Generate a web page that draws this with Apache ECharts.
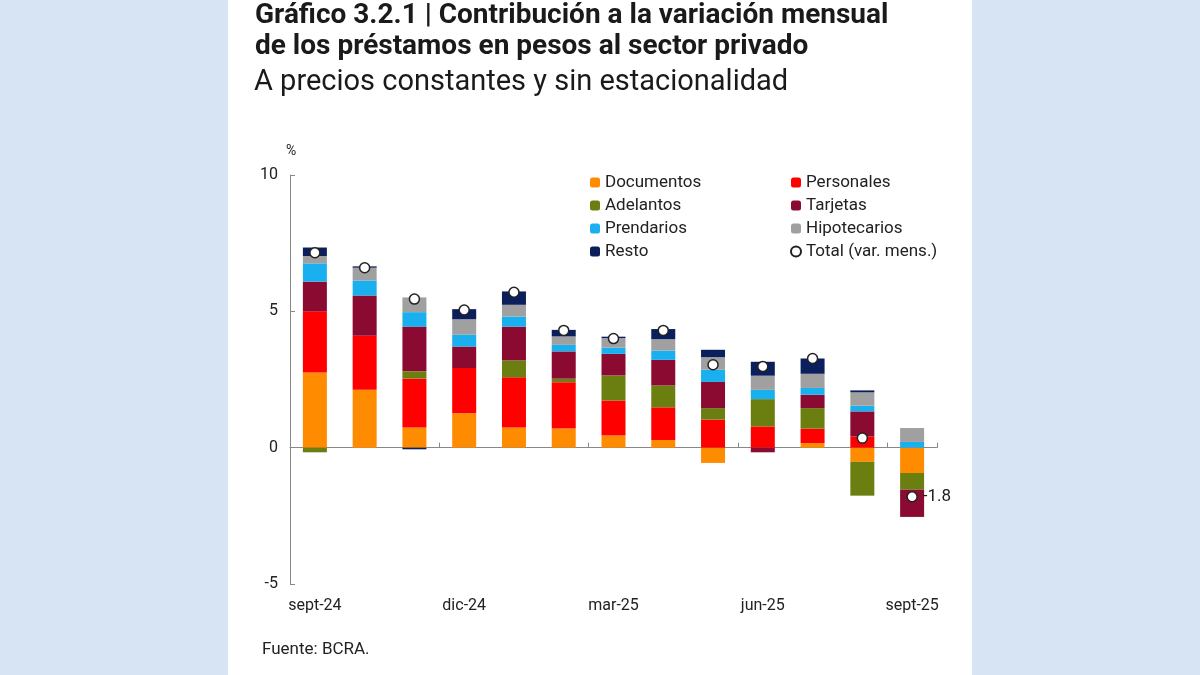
<!DOCTYPE html>
<html><head><meta charset="utf-8">
<script src="https://cdn.jsdelivr.net/npm/echarts@6/dist/echarts.min.js"></script>
<style>html,body{margin:0;padding:0;background:#d6e4f3}#c{width:1200px;height:675px}</style>
</head><body><div id="c"></div>
<script>
const categories=['sept-24','oct-24','nov-24','dic-24','ene-25','feb-25','mar-25','abr-25','may-25','jun-25','jul-25','ago-25','sept-25'];
const documentos=[2.76,2.12,0.74,1.26,0.74,0.70,0.45,0.28,-0.56,0,0.17,-0.52,-0.93];
const personales=[2.24,1.98,1.80,1.66,1.84,1.70,1.28,1.20,1.03,0.78,0.53,0.41,0];
const adelantos=[-0.17,0,0.26,0,0.62,0.13,0.92,0.80,0.42,1.00,0.75,-1.24,-0.61];
const tarjetas=[1.09,1.48,1.64,0.79,1.24,1.00,0.79,0.94,0.96,-0.17,0.49,0.92,-1.00];
const prendarios=[0.67,0.55,0.53,0.43,0.37,0.24,0.23,0.34,0.45,0.34,0.25,0.21,0.21];
const hipotecarios=[0.27,0.47,0.54,0.57,0.43,0.31,0.35,0.42,0.46,0.52,0.52,0.49,0.51];
const resto=[0.31,0.05,-0.06,0.37,0.49,0.24,0.05,0.37,0.27,0.51,0.56,0.07,0];
const total=[7.15,6.6,5.45,5.05,5.7,4.3,4.0,4.3,3.04,2.98,3.27,0.35,-1.8];
const yTicks=[-5,0,5,10];
const names=['Documentos','Personales','Adelantos','Tarjetas','Prendarios','Hipotecarios','Resto'];
const colors=['#ff8c00','#ff0000','#6b7f10','#8b0a32','#1ab0f0','#a0a0a0','#0a1f5c'];
const data=[documentos,personales,adelantos,tarjetas,prendarios,hipotecarios,resto];
const series=names.map((n,i)=>({name:n,type:'bar',stack:'s',barWidth:24,data:data[i],itemStyle:{color:colors[i]}}));
series.push({name:'Total (var. mens.)',type:'scatter',data:total,symbolSize:10,z:10,
 itemStyle:{color:'#ffffff',opacity:1,borderColor:'#222',borderWidth:1.5},
 label:{show:true,position:'right',fontSize:17,color:'#222',fontFamily:'Roboto',
  formatter:p=>p.dataIndex===12?String(p.value):''}});
const chart=echarts.init(document.getElementById('c'));
chart.setOption({
 animation:false,
 graphic:[
  {type:'rect',shape:{x:228,y:0,width:744,height:675},style:{fill:'#fff'},z:-10},
  {type:'text',left:255,top:0,style:{text:'Gráfico 3.2.1 | Contribución a la variación mensual\nde los préstamos en pesos al sector privado',font:'bold 28px Roboto',fill:'#1a1a1a',lineHeight:31}},
  {type:'text',left:254,top:68,style:{text:'A precios constantes y sin estacionalidad',font:'29px Roboto',fill:'#1a1a1a'}},
  {type:'text',left:286,top:144,style:{text:'%',font:'14px Roboto',fill:'#222'}},
  {type:'text',left:262,top:641,style:{text:'Fuente: BCRA.',font:'17px Roboto',fill:'#222'}}
 ],
 legend:[
  {orient:'vertical',left:585,top:169,itemWidth:10,itemHeight:10,itemGap:6,textStyle:{fontSize:17,color:'#222',fontFamily:'Roboto'},
   data:['Documentos','Adelantos','Prendarios','Resto']},
  {orient:'vertical',left:785,top:169,itemWidth:10,itemHeight:10,itemGap:6,textStyle:{fontSize:17,color:'#222',fontFamily:'Roboto'},
   data:['Personales','Tarjetas','Hipotecarios','Total (var. mens.)']}
 ],
 grid:{left:290,right:1200-937,top:175,bottom:675-584},
 xAxis:{type:'category',data:categories,
  axisLine:{onZero:true,lineStyle:{color:'#888'}},
  axisTick:{show:true,inside:true,length:5,interval:(i)=>i%3===0&&i>0,lineStyle:{color:'#888'}},
  axisLabel:{interval:2,fontSize:16,color:'#222',fontFamily:'Roboto',margin:14},
  position:'bottom'},
 yAxis:{type:'value',min:-5,max:10,interval:5,
  axisLine:{show:true,lineStyle:{color:'#888'}},
  axisTick:{show:true,inside:true,length:5,lineStyle:{color:'#888'}},
  splitLine:{show:false},
  axisLabel:{fontSize:16,color:'#222',fontFamily:'Roboto',margin:12,formatter:v=>yTicks.includes(v)?String(v):''}},
 series:series
});
</script></body></html>
